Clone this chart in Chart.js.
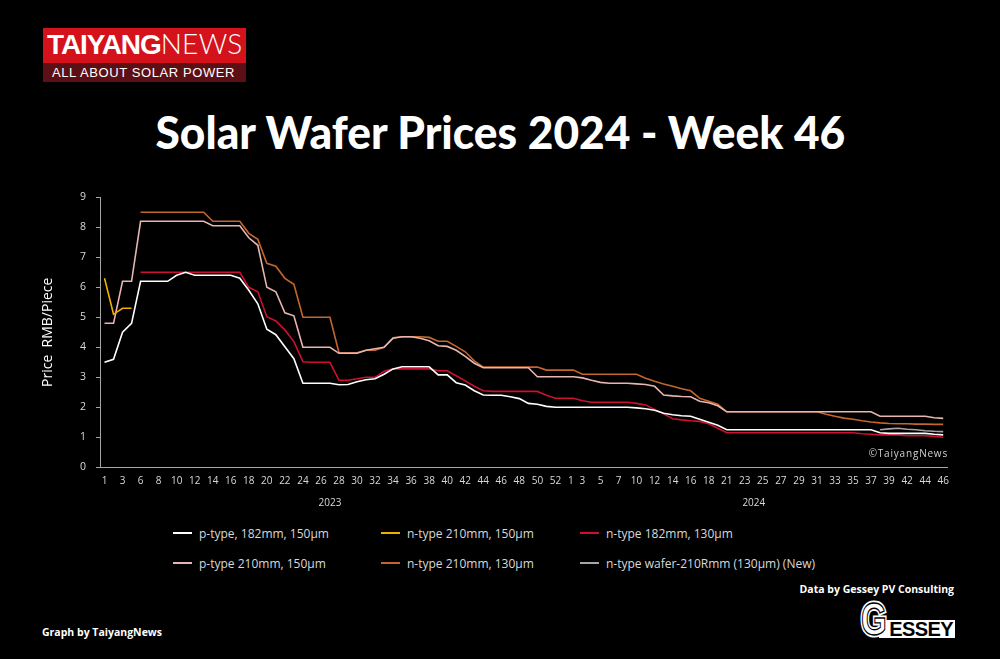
<!DOCTYPE html>
<html>
<head>
<meta charset="utf-8">
<script src="https://cdn.jsdelivr.net/npm/chart.js@4.4.1/dist/chart.umd.min.js"></script>
<style>
  html, body { margin: 0; padding: 0; background: #000; }
  #page { position: relative; width: 1000px; height: 659px; background: #000; overflow: hidden; font-family: 'Open Sans', sans-serif; color: #fff; }
  #logo { position: absolute; left: 43px; top: 28px; width: 203px; }
  #logo .top { height: 35px; background: #d3121c; font-family: 'Liberation Sans', Arial, sans-serif; font-size: 28px; line-height: 28px; padding-left: 4px; box-sizing: border-box; padding-top: 1px; white-space: nowrap; }
  #logo .top b { font-weight: 700; letter-spacing: -1.1px; }
  #logo .top span { font-family: 'Lato', sans-serif; font-weight: 300; letter-spacing: 0.3px; }
  #logo .bot { height: 19px; background: #5c0f14; font-family: 'Liberation Sans', Arial, sans-serif; font-size: 13px; letter-spacing: 0.6px; display: flex; align-items: center; padding-left: 9px; white-space: nowrap; }
  #title { position: absolute; left: 0; width: 1000px; top: 109px; text-align: center; font-family: 'Lato', sans-serif; font-weight: 900; font-size: 46px; line-height: 46px; white-space: nowrap; }
  #title span { display: inline-block; transform-origin: center; }
  #chartBox { position: absolute; left: 0; top: 180px; width: 1000px; height: 335px; }
  #copy { position: absolute; right: 52px; top: 446px; font-size: 10px; letter-spacing: 0.8px; color: #d0d0d0; }
  #legend { position: absolute; left: 0; top: 0; width: 1000px; }
  .item { position: absolute; display: flex; align-items: center; height: 16px; font-size: 12px; color: #d9d9d9; white-space: nowrap; }
  .item i { display: inline-block; width: 19px; height: 2.5px; margin-right: 7px; }
  .foot { position: absolute; font-weight: 700; font-size: 10.5px; white-space: nowrap; }
  #gessey { position: absolute; left: 858px; top: 603px; width: 100px; height: 40px; }
  #gessey .box { position: absolute; left: 21px; top: 17px; width: 76px; height: 18px; background: #fff; color: #000; font-family: 'Liberation Sans', Arial, sans-serif; font-weight: 700; font-size: 20px; line-height: 19px; text-align: right; padding-right: 2px; box-sizing: border-box; letter-spacing: -0.6px; }
  #gessey .g { position: absolute; left: 3px; top: -7px; font-family: 'Liberation Sans', Arial, sans-serif; font-weight: 700; font-size: 46px; line-height: 46px; color: #fff; transform: scaleX(0.72); transform-origin: left top; }
  #gessey .g.back { -webkit-text-stroke: 5px #fff; }
  #gessey .g.front { -webkit-text-stroke: 1.3px #000; }
</style>
</head>
<body>
<div id="page">
  <div id="logo">
    <div class="top"><b>TAIYANG</b><span>NEWS</span></div>
    <div class="bot">ALL ABOUT SOLAR POWER</div>
  </div>
  <div id="title"><span>Solar Wafer Prices 2024 - Week 46</span></div>
  <div id="chartBox"><canvas id="myChart" width="1000" height="335"></canvas></div>
  <div id="copy">©TaiyangNews</div>
  <div id="legend"></div>
  <div class="foot" style="right:46px; top:582px;">Data by Gessey PV Consulting</div>
  <div class="foot" style="left:42px; top:625px;">Graph by TaiyangNews</div>
  <div id="gessey">
    <div class="box">ESSEY</div>
    <div class="g back">G</div>
    <div class="g front">G</div>
  </div>
</div>
<script>
// weeks with data (some holiday weeks have no quote)
const weeks2023 = [1, 2, 3, 5, 6, 7, 8, 9, 10, 11, 12, 13, 14, 15, 16, 17, 18, 19, 20, 21,
  22, 23, 24, 25, 26, 27, 28, 29, 30, 31, 32, 33, 34, 35, 36, 37, 38, 39, 40, 41,
  42, 43, 44, 45, 46, 47, 48, 49, 50, 51, 52];
const weeks2024 = [1, 2, 3, 4, 5, 6, 7, 8, 10, 11, 12, 13, 14, 15, 16, 17, 18, 19, 21, 22,
  23, 24, 25, 26, 27, 28, 29, 30, 31, 32, 33, 34, 35, 36, 37, 38, 39, 40, 42, 43,
  44, 45, 46];
const years = ['2023', '2024'];
const yTicks = [0, 1, 2, 3, 4, 5, 6, 7, 8, 9];

// RMB per piece
const pType182_150 = [
  3.5, 3.6, 4.5, 4.8, 6.2, 6.2, 6.2, 6.2, 6.4, 6.5,
  6.4, 6.4, 6.4, 6.4, 6.4, 6.3, 5.9, 5.45, 4.6, 4.42,
  4.02, 3.62, 2.8, 2.8, 2.8, 2.8, 2.75, 2.76, 2.85, 2.92,
  2.95, 3.1, 3.28, 3.35, 3.35, 3.35, 3.35, 3.08, 3.08, 2.82,
  2.74, 2.55, 2.41, 2.4, 2.4, 2.35, 2.29, 2.13, 2.1, 2.03,
  2.0, 2.0, 2.0, 2.0, 2.0, 2.0, 2.0, 2.0, 2.0, 1.98,
  1.95, 1.9, 1.8, 1.75, 1.72, 1.7, 1.6, 1.5, 1.4, 1.25,
  1.25, 1.25, 1.25, 1.25, 1.25, 1.25, 1.25, 1.25, 1.25, 1.25,
  1.25, 1.25, 1.25, 1.25, 1.25, 1.25, 1.15, 1.13, 1.13, 1.13,
  1.13, 1.13, 1.1, 1.08];
const nType210_150 = [6.3, 5.1, 5.3, 5.3];
const nType182_130 = [
  null, null, null, null, 6.5, 6.5, 6.5, 6.5, 6.5, 6.5,
  6.5, 6.5, 6.5, 6.5, 6.5, 6.5, 6.0, 5.85, 5.02, 4.88,
  4.58, 4.19, 3.52, 3.5, 3.5, 3.5, 2.9, 2.9, 2.95, 3.0,
  3.0, 3.2, 3.28, 3.28, 3.28, 3.28, 3.28, 3.22, 3.22, 3.05,
  2.88, 2.7, 2.55, 2.53, 2.53, 2.53, 2.53, 2.53, 2.53, 2.4,
  2.3, 2.3, 2.3, 2.22, 2.17, 2.17, 2.17, 2.17, 2.17, 2.13,
  2.08, 1.93, 1.78, 1.62, 1.58, 1.55, 1.53, 1.45, 1.3, 1.15,
  1.15, 1.15, 1.15, 1.15, 1.15, 1.15, 1.15, 1.15, 1.15, 1.15,
  1.15, 1.15, 1.15, 1.15, 1.12, 1.1, 1.08, 1.08, 1.08, 1.05,
  1.05, 1.05, 1.03, 1.0];
const pType210_150 = [
  4.8, 4.8, 6.2, 6.2, 8.2, 8.2, 8.2, 8.2, 8.2, 8.2,
  8.2, 8.2, 8.05, 8.05, 8.05, 8.05, 7.65, 7.4, 6.0, 5.85,
  5.15, 5.05, 4.0, 4.0, 4.0, 4.0, 3.8, 3.8, 3.8, 3.9,
  3.95, 4.0, 4.3, 4.35, 4.35, 4.3, 4.22, 4.05, 4.03, 3.9,
  3.7, 3.47, 3.32, 3.32, 3.32, 3.32, 3.32, 3.32, 3.02, 3.02,
  3.02, 3.02, 3.02, 2.98, 2.9, 2.83, 2.8, 2.8, 2.8, 2.78,
  2.76, 2.7, 2.41, 2.38, 2.36, 2.35, 2.2, 2.15, 2.05, 1.85,
  1.85, 1.85, 1.85, 1.85, 1.85, 1.85, 1.85, 1.85, 1.85, 1.85,
  1.85, 1.85, 1.85, 1.85, 1.85, 1.85, 1.7, 1.7, 1.7, 1.7,
  1.7, 1.7, 1.65, 1.63];
const nType210_130 = [
  null, null, null, null, 8.5, 8.5, 8.5, 8.5, 8.5, 8.5,
  8.5, 8.5, 8.2, 8.2, 8.2, 8.2, 7.8, 7.6, 6.8, 6.7,
  6.3, 6.1, 5.0, 5.0, 5.0, 5.0, 3.82, 3.82, 3.82, 3.9,
  3.9, 4.0, 4.32, 4.35, 4.35, 4.35, 4.33, 4.2, 4.2, 4.03,
  3.85, 3.55, 3.34, 3.34, 3.34, 3.34, 3.34, 3.34, 3.34, 3.24,
  3.24, 3.24, 3.24, 3.1, 3.1, 3.1, 3.1, 3.1, 3.1, 3.1,
  2.97, 2.87, 2.78, 2.7, 2.62, 2.55, 2.3, 2.2, 2.1, 1.85,
  1.85, 1.85, 1.85, 1.85, 1.85, 1.85, 1.85, 1.85, 1.85, 1.85,
  1.77, 1.7, 1.64, 1.6, 1.55, 1.51, 1.48, 1.46, 1.45, 1.45,
  1.44, 1.44, 1.43, 1.43];
// new series, quoted only from 2024 week 38
const nType210R_start = 86;
const nType210R_130 = [1.25, 1.28, 1.3, 1.27, 1.25, 1.22, 1.2, 1.19];

const labels = weeks2023.concat(weeks2024).map(String);

// tick text: every other week inside each year, year name under the middle of its block
const tickText = labels.map((w, i) => {
  const inFirst = i < weeks2023.length;
  const j = inFirst ? i : i - weeks2023.length;
  if (j % 2 !== 0) return '';
  // first week of the new year sits right after week 52, nudge it clear
  return (!inFirst && j === 0) ? '     ' + w : w;
});
[weeks2023.length, weeks2024.length].reduce((start, n, k) => {
  const mid = Math.floor(start + (n - 1) / 2);
  tickText[mid] = [tickText[mid], '', years[k]];
  return start + n;
}, 0);

function fromIndex(start, values) {
  const out = labels.map(() => null);
  values.forEach((v, k) => { out[start + k] = v; });
  return out;
}

const series = [
  { label: 'p-type, 182mm, 150µm', data: pType182_150, color: '#ffffff' },
  { label: 'n-type 210mm, 150µm', data: nType210_150, color: '#f0b000' },
  { label: 'n-type 182mm, 130µm', data: nType182_130, color: '#cc1030' },
  { label: 'p-type 210mm, 150µm', data: pType210_150, color: '#e8b6b2' },
  { label: 'n-type 210mm, 130µm', data: nType210_130, color: '#c4662c' },
  { label: 'n-type wafer-210Rmm (130µm) (New)', data: fromIndex(nType210R_start, nType210R_130), color: '#a6a6a6' }
];

const axisGrey = '#a6a6a6';
const ctx = document.getElementById('myChart');

const myChart = new Chart(ctx, {
  type: 'line',
  data: {
    labels: labels,
    datasets: series.map(s => ({
      label: s.label,
      data: s.data,
      borderColor: s.color,
      backgroundColor: s.color,
      borderWidth: 1.6,
      pointRadius: 0,
      tension: 0,
      spanGaps: false
    }))
  },
  options: {
    responsive: false,
    animation: false,
    layout: { padding: { top: 17.3, right: 52.3, bottom: 0, left: 0 } },
    plugins: { legend: { display: false }, tooltip: { enabled: false }, title: { display: false } },
    scales: {
      x: {
        type: 'category',
        offset: true,
        grid: { display: false, drawTicks: false },
        border: { display: true, color: axisGrey, width: 1 },
        ticks: {
          autoSkip: false, maxRotation: 0, minRotation: 0,
          color: '#d9d9d9', padding: 8,
          font: { family: 'Open Sans', size: 10, lineHeight: 1.1 },
          callback: (value, index) => tickText[index]
        },
        afterFit: (scale) => { scale.height = 47.7; }
      },
      y: {
        min: yTicks[0],
        max: yTicks[yTicks.length - 1],
        grid: { drawOnChartArea: false, drawTicks: true, tickLength: 4, color: axisGrey, lineWidth: 1 },
        border: { display: true, color: axisGrey, width: 1 },
        ticks: {
          stepSize: 1, color: '#d9d9d9', padding: 10,
          font: { family: 'Open Sans', size: 10.5 }
        },
        title: {
          display: true, text: 'Price  RMB/Piece', color: '#ffffff',
          font: { family: 'Open Sans', size: 14 },
          padding: { top: 40, bottom: 0 }
        },
        afterFit: (scale) => { scale.width = 100; }
      }
    }
  }
});

// legend in three columns, two rows, built from the chart's datasets
const legendCols = [173, 381, 580];
const legendRows = [525, 555];
const legend = document.getElementById('legend');
myChart.data.datasets.forEach((ds, k) => {
  const el = document.createElement('div');
  el.className = 'item';
  el.style.left = legendCols[k % 3] + 'px';
  el.style.top = legendRows[Math.floor(k / 3)] + 'px';
  el.innerHTML = '<i style="background:' + ds.borderColor + '"></i>' + ds.label;
  legend.appendChild(el);
});

// squeeze the title to the reference width
const t = document.querySelector('#title span');
t.style.transform = 'scaleX(' + (690 / t.offsetWidth) + ')';
</script>
</body>
</html>
